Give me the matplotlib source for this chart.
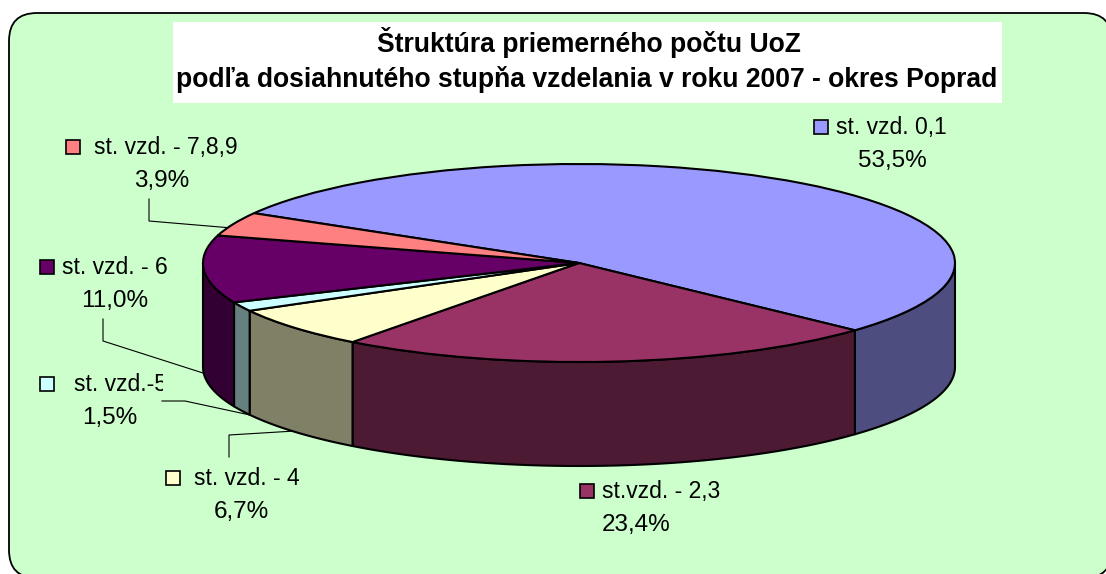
import numpy as np
import matplotlib
matplotlib.use('Agg')
import matplotlib.pyplot as plt
from matplotlib.patches import FancyBboxPatch, Rectangle, Polygon

plt.rcParams['font.family'] = ['Liberation Sans', 'DejaVu Sans']

# slices, clockwise from the back left
categories = ['st. vzd. 0,1', 'st.vzd. - 2,3', 'st. vzd. - 4', 'st. vzd.-5', 'st. vzd. - 6', 'st. vzd. - 7,8,9']
shares = [53.5, 23.4, 6.7, 1.5, 11.0, 3.9]
share_labels = ['53,5%', '23,4%', '6,7%', '1,5%', '11,0%', '3,9%']
top_colors = ['#9999FF', '#993366', '#FFFFCC', '#CCFFFF', '#660066', '#FF8080']
side_colors = ['#4D4D80', '#4D1A33', '#808066', '#668080', '#330033', '#804040']
title_lines = ['Štruktúra priemerného počtu UoZ',
               'podľa dosiahnutého stupňa vzdelania v roku 2007 - okres Poprad']

W, H = 1106, 574
CX, CY, RX, RY = 579, 263, 376, 99
DEPTH = 104
START = 149.8

# marker x, text x, label y, share x centre
label_pos = [(821, 836, 127, 892), (587, 602, 491, 636), (173, 194, 478, 241),
             (46.5, 74, 384, 110), (46.5, 62, 267, 115), (73, 94, 147, 161.5)]
leaders = [[(149, 199), (149, 221), (232, 228)],
           [(103, 319), (103, 341), (203, 373)],
           [(162, 401), (185, 401), (250, 415)],
           [(229, 457), (229, 435), (295, 431)]]

fig = plt.figure(figsize=(W / 100, H / 100), dpi=100)
ax = fig.add_axes([0, 0, 1, 1], zorder=0)
ax.set_xlim(0, W)
ax.set_ylim(H, 0)
ax.axis('off')

ax.add_patch(FancyBboxPatch((9, 13), 1103, 565, boxstyle='round,pad=0,rounding_size=28',
                            fc='#CCFFCC', ec='black', lw=1.3, clip_on=True))
ax.add_patch(Rectangle((173, 22), 829, 81, fc='white', ec='none'))
ax.text(589, 52, title_lines[0], ha='center', va='baseline', fontsize=19.1, fontweight='bold', color='black')
ax.text(587, 87, title_lines[1], ha='center', va='baseline', fontsize=19.1, fontweight='bold', color='black')

for pts in leaders:
    xs, ys = zip(*pts)
    ax.plot(xs, ys, color='black', lw=0.8)

for i, (mx, tx, ly, sx) in enumerate(label_pos):
    ax.add_patch(Rectangle((mx - 7, ly - 7), 14, 14, fc=top_colors[i], ec='black', lw=1.2))
    t = ax.text(tx, ly + 7, categories[i], ha='left', va='baseline', fontsize=16.5, color='black')
    if categories[i] == 'st. vzd.-5':
        # the original label is cut off by its box
        t.set_clip_on(True)
        t.set_clip_path(Rectangle((tx - 5, ly - 20), 94, 40, transform=ax.transData))
    ax.text(sx, ly + 40, share_labels[i], ha='center', va='baseline', fontsize=17.5, color='black')

# pie on its own axes, unit circle stretched to the ellipse
pie_ax = fig.add_axes([0, 0, 1, 1], zorder=1)
pie_ax.patch.set_alpha(0)
edges = START - np.cumsum([0] + shares) * 3.6
dy = DEPTH / RY

for i in range(len(shares)):
    # only the front half of the rim shows
    a0 = np.clip(edges[i], -180, 0)
    a1 = np.clip(edges[i + 1], -180, 0)
    if a0 == a1:
        continue
    t = np.radians(np.linspace(a0, a1, 60))
    x, y = np.cos(t), np.sin(t)
    side = np.column_stack([np.r_[x, x[::-1]], np.r_[y, y[::-1] - dy]])
    pie_ax.add_patch(Polygon(side, closed=True, fc=side_colors[i], ec='black', lw=1.5, joinstyle='round'))

pie_ax.pie(shares, colors=top_colors, startangle=START, counterclock=False, radius=1,
           wedgeprops={'edgecolor': 'black', 'linewidth': 1.5})
pie_ax.set_aspect('auto')
pie_ax.set_xlim(-CX / RX, (W - CX) / RX)
pie_ax.set_ylim((CY - H) / RY, CY / RY)
pie_ax.axis('off')

fig.savefig('out.png', dpi=100)
